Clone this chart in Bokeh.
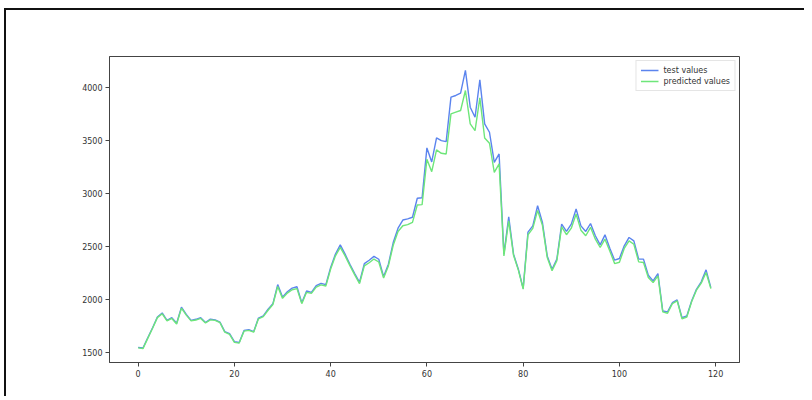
from bokeh.plotting import figure
from bokeh.models import Range1d, FixedTicker, Legend, LegendItem
from bokeh.embed import file_html
from bokeh.resources import INLINE

test_values = [1545, 1538, 1636, 1730, 1832, 1870, 1800, 1825, 1772, 1925,
               1857, 1800, 1810, 1825, 1780, 1812, 1805, 1784, 1693, 1674,
               1598, 1590, 1705, 1712, 1693, 1822, 1843, 1905, 1958, 2138,
               2020, 2070, 2105, 2118, 1967, 2078, 2065, 2128, 2150, 2138,
               2300, 2428, 2514, 2426, 2331, 2243, 2160, 2337, 2369, 2405,
               2378, 2214, 2331, 2536, 2672, 2749, 2760, 2775, 2955, 2960,
               3431, 3298, 3525, 3500, 3491, 3911, 3927, 3949, 4164, 3816,
               3721, 4075, 3658, 3579, 3295, 3374, 2426, 2780, 2426, 2284,
               2102, 2635, 2694, 2884, 2726, 2410, 2284, 2379, 2710, 2641,
               2710, 2853, 2694, 2641, 2716, 2600, 2514, 2609, 2483, 2369,
               2385, 2505, 2584, 2552, 2379, 2379, 2227, 2173, 2243, 1889,
               1880, 1967, 1993, 1825, 1841, 1983, 2094, 2164, 2278, 2110]

predicted_values = [1540, 1533, 1630, 1725, 1826, 1862, 1795, 1818, 1766, 1915,
                    1850, 1795, 1803, 1818, 1775, 1805, 1800, 1778, 1688, 1668,
                    1592, 1585, 1698, 1705, 1688, 1815, 1836, 1896, 1950, 2120,
                    2008, 2058, 2090, 2100, 1958, 2065, 2055, 2115, 2135, 2125,
                    2285, 2410, 2490, 2410, 2318, 2230, 2148, 2315, 2345, 2380,
                    2352, 2200, 2315, 2510, 2640, 2695, 2705, 2727, 2891, 2895,
                    3323, 3206, 3412, 3380, 3374, 3753, 3769, 3785, 3974, 3658,
                    3595, 3905, 3525, 3475, 3200, 3280, 2410, 2742, 2415, 2275,
                    2095, 2610, 2670, 2840, 2700, 2395, 2270, 2365, 2685, 2610,
                    2672, 2805, 2653, 2600, 2680, 2568, 2489, 2568, 2457, 2337,
                    2350, 2480, 2552, 2520, 2353, 2347, 2205, 2157, 2220, 1880,
                    1867, 1958, 1985, 1815, 1832, 1975, 2085, 2152, 2252, 2100]

x_index = list(range(len(test_values)))
x_ticks = [0, 20, 40, 60, 80, 100, 120]
y_ticks = [1500, 2000, 2500, 3000, 3500, 4000]
series_labels = ["test values", "predicted values"]

# matplotlib-like 5% margins
xmin, xmax = min(x_index), max(x_index)
allv = test_values + predicted_values
ymin, ymax = min(allv), max(allv)
xpad = (xmax - xmin) * 0.05
ypad = (ymax - ymin) * 0.05

p = figure(width=800, height=388, output_backend="svg", toolbar_location=None,
           x_range=Range1d(xmin - xpad, xmax + xpad),
           y_range=Range1d(ymin - ypad, ymax + ypad),
           min_border_left=103, min_border_right=67,
           min_border_top=46, min_border_bottom=36)
p.styles = {"border-left": "2px solid #111", "border-top": "2px solid #111",
            "margin-left": "4px", "margin-top": "8px"}

p.background_fill_color = "white"
p.border_fill_color = "white"
p.outline_line_color = "#444444"
p.outline_line_width = 1
p.xgrid.visible = False
p.ygrid.visible = False

for ax in (p.xaxis, p.yaxis):
    ax.axis_line_color = "#444444"
    ax.major_tick_line_color = "#444444"
    ax.major_tick_out = 4
    ax.major_tick_in = 0
    ax.minor_tick_line_color = None
    ax.major_label_text_font = "DejaVu Sans"
    ax.major_label_text_font_size = "8px"
    ax.major_label_text_color = "#333333"
    ax.major_label_standoff = 3

p.xaxis.ticker = FixedTicker(ticks=x_ticks)
p.yaxis.ticker = FixedTicker(ticks=y_ticks)

r1 = p.line(x_index, test_values, line_color="#5b84ee", line_width=1.4)
r2 = p.line(x_index, predicted_values, line_color="#6ee67a", line_width=1.4)

legend = Legend(items=[LegendItem(label=series_labels[0], renderers=[r1]),
                       LegendItem(label=series_labels[1], renderers=[r2])],
                location="top_right")
legend.margin = 4
legend.padding = 4
legend.spacing = 1
legend.label_height = 10
legend.glyph_height = 10
legend.glyph_width = 18
legend.label_standoff = 5
legend.label_text_font = "DejaVu Sans"
legend.label_text_font_size = "8px"
legend.label_text_color = "#333333"
legend.border_line_color = "#cccccc"
legend.border_line_width = 1
legend.background_fill_alpha = 0.85
p.add_layout(legend)

open("out.html", "w").write(file_html(p, INLINE))
